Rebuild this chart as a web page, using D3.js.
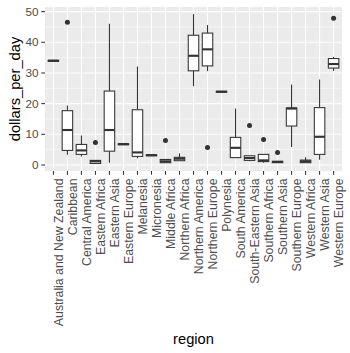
<!DOCTYPE html>
<html><head><meta charset="utf-8">
<script src="https://cdn.jsdelivr.net/npm/d3@7"></script>
<style>body{margin:0;background:#fff}svg{display:block}</style>
</head><body>
<script>
const regions = ["Australia and New Zealand","Caribbean","Central America","Eastern Africa","Eastern Asia","Eastern Europe","Melanesia","Micronesia","Middle Africa","Northern Africa","Northern America","Northern Europe","Polynesia","South America","South-Eastern Asia","Southern Africa","Southern Asia","Southern Europe","Western Africa","Western Asia","Western Europe"];
const whiskerLow  = [33.8, 3.35, 2.8, 0.45, 0.75, 6.6, 2.2, 3.0, 0.75, 1.4, 25.7, 30.6, 23.7, 2.4, 1.2, 0.75, 0.75, 5.9, 0.75, 1.7, 30.6];
const q1          = [33.8, 4.75, 3.45, 0.5, 4.5, 6.6, 2.8, 3.0, 0.75, 1.4, 30.7, 32.3, 23.7, 2.4, 1.5, 1.1, 0.75, 12.7, 0.75, 3.45, 31.6];
const median      = [34.0, 11.4, 4.75, 1.2, 11.4, 6.8, 4.1, 3.2, 1.2, 2.05, 35.6, 37.7, 23.9, 5.6, 2.27, 1.5, 1.0, 18.4, 1.2, 9.2, 32.9];
const q3          = [34.1, 17.7, 6.7, 1.5, 24.1, 6.9, 18.0, 3.3, 1.8, 2.5, 42.3, 43.0, 24.0, 9.0, 3.0, 3.45, 1.2, 18.6, 1.6, 18.7, 34.7];
const whiskerHigh = [34.1, 19.4, 9.6, 1.6, 46.0, 6.9, 32.1, 3.3, 1.8, 3.8, 49.2, 45.6, 24.0, 18.4, 3.0, 3.45, 1.2, 26.2, 2.5, 27.9, 35.2];
const outliers    = [[], [46.5], [], [7.35], [], [], [], [], [8.0], [], [], [5.7], [], [], [12.85], [8.3], [4.1], [], [], [], [47.8]];
const yTicks = [0, 10, 20, 30, 40, 50];
const yMinor = [5, 15, 25, 35, 45];

const W = 350, H = 353;
const panel = {left: 45, right: 342, top: 7, bottom: 171};
const FONT = "Liberation Sans, Arial, sans-serif";

const svg = d3.select("body").append("svg").attr("width", W).attr("height", H);
const x = d3.scalePoint().domain(regions).range([panel.left, panel.right]).padding(0.6);
const y = d3.scaleLinear().domain([-1.96, 51.5]).range([panel.bottom, panel.top]);
const step = x.step();
const bw = step * 0.75;

svg.append("rect").attr("x", panel.left).attr("y", panel.top)
  .attr("width", panel.right - panel.left).attr("height", panel.bottom - panel.top)
  .attr("fill", "#EBEBEB");

const grid = svg.append("g");
grid.selectAll(".minor").data(yMinor).join("line")
  .attr("x1", panel.left).attr("x2", panel.right)
  .attr("y1", d => y(d)).attr("y2", d => y(d))
  .attr("stroke", "#fff").attr("stroke-width", 0.53);
grid.selectAll(".majy").data(yTicks).join("line")
  .attr("x1", panel.left).attr("x2", panel.right)
  .attr("y1", d => y(d)).attr("y2", d => y(d))
  .attr("stroke", "#fff").attr("stroke-width", 1.07);
grid.selectAll(".majx").data(regions).join("line")
  .attr("y1", panel.top).attr("y2", panel.bottom)
  .attr("x1", d => x(d)).attr("x2", d => x(d))
  .attr("stroke", "#fff").attr("stroke-width", 1.07);

const col = "#333333";
const boxes = svg.append("g").selectAll("g").data(regions).join("g");
boxes.append("line")
  .attr("x1", d => x(d)).attr("x2", d => x(d))
  .attr("y1", (d, i) => y(q3[i])).attr("y2", (d, i) => y(whiskerHigh[i]))
  .attr("stroke", col).attr("stroke-width", 1.07);
boxes.append("line")
  .attr("x1", d => x(d)).attr("x2", d => x(d))
  .attr("y1", (d, i) => y(q1[i])).attr("y2", (d, i) => y(whiskerLow[i]))
  .attr("stroke", col).attr("stroke-width", 1.07);
boxes.append("rect")
  .attr("x", d => x(d) - bw / 2).attr("width", bw)
  .attr("y", (d, i) => y(q3[i])).attr("height", (d, i) => Math.max(0, y(q1[i]) - y(q3[i])))
  .attr("fill", "#fff").attr("stroke", col).attr("stroke-width", 1.07);
boxes.append("line")
  .attr("x1", d => x(d) - bw / 2).attr("x2", d => x(d) + bw / 2)
  .attr("y1", (d, i) => y(median[i])).attr("y2", (d, i) => y(median[i]))
  .attr("stroke", col).attr("stroke-width", 2.13);
boxes.each(function(d, i) {
  d3.select(this).selectAll("circle").data(outliers[i]).join("circle")
    .attr("cx", x(d)).attr("cy", v => y(v)).attr("r", 2.5).attr("fill", col);
});

// y axis
const ya = svg.append("g");
ya.selectAll("line").data(yTicks).join("line")
  .attr("x1", panel.left - 3.67).attr("x2", panel.left)
  .attr("y1", d => y(d)).attr("y2", d => y(d))
  .attr("stroke", col).attr("stroke-width", 1.07);
ya.selectAll("text").data(yTicks).join("text")
  .attr("x", panel.left - 6.6).attr("y", d => y(d)).attr("dy", "0.35em")
  .attr("text-anchor", "end").attr("font-family", FONT)
  .attr("font-size", 11.7).attr("fill", "#4D4D4D").text(d => d);

// x axis
const xa = svg.append("g");
xa.selectAll("line").data(regions).join("line")
  .attr("x1", d => x(d)).attr("x2", d => x(d))
  .attr("y1", panel.bottom).attr("y2", panel.bottom + 3.67)
  .attr("stroke", col).attr("stroke-width", 1.07);
xa.selectAll("text").data(regions).join("text")
  .attr("transform", d => `translate(${x(d)},${panel.bottom + 7.5}) rotate(-90)`)
  .attr("dy", "0.78em").attr("text-anchor", "end")
  .attr("font-family", FONT)
  .attr("font-size", 12.3).attr("fill", "#4D4D4D").text(d => d);

// titles
svg.append("text")
  .attr("x", (panel.left + panel.right) / 2).attr("y", 344)
  .attr("text-anchor", "middle").attr("font-family", FONT)
  .attr("font-size", 14.7).attr("fill", "#000").text("region");
svg.append("text")
  .attr("transform", `translate(20,${(panel.top + panel.bottom) / 2}) rotate(-90)`)
  .attr("text-anchor", "middle").attr("font-family", FONT)
  .attr("font-size", 14.7).attr("fill", "#000").text("dollars_per_day");
</script>
</body></html>
